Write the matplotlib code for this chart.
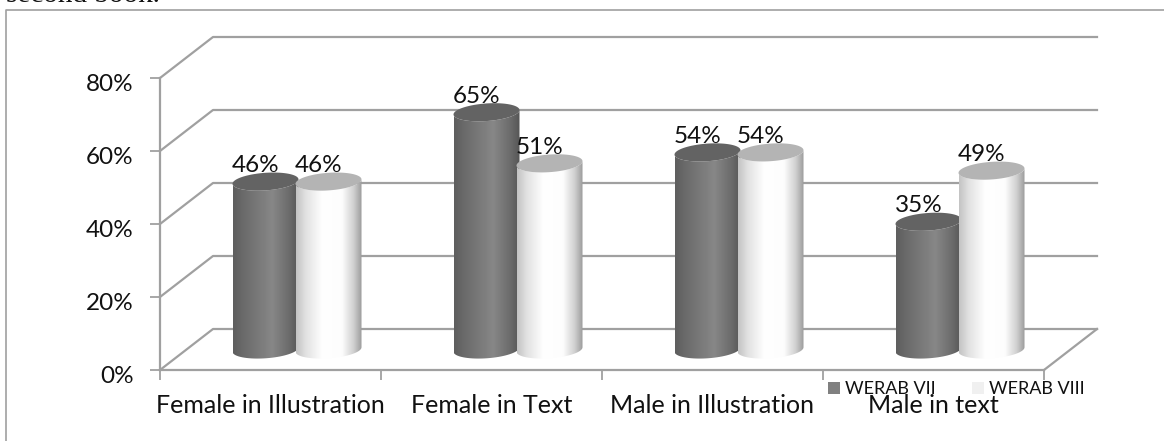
import numpy as np
import matplotlib
matplotlib.use('Agg')
import matplotlib.pyplot as plt
from matplotlib.lines import Line2D
from matplotlib.patches import PathPatch, Patch
from matplotlib.path import Path
from matplotlib.colors import LinearSegmentedColormap
from matplotlib.transforms import ScaledTranslation

### data
categories = ['Female in Illustration', 'Female in Text', 'Male in Illustration', 'Male in text']
werab_vii = [46, 65, 54, 35]
werab_viii = [46, 51, 54, 49]
y_ticks = [0, 20, 40, 60, 80]
y_tick_labels = ['0%', '20%', '40%', '60%', '80%']
series_names = ['WERAB VII', 'WERAB VIII']

W, H = 1164, 441
GRID = '#a0a0a0'
DEPTH_X = 53 / 221.  # depth of the fake 3d box, in axis units
DEPTH_Y = 41 / 3.65
BAR_W = 66 / 221.
BAR_STEP = 63 / 221.
ELL_H = 8.8 / 3.65  # half height of the ellipses
TILT = 2.2 / 3.65  # the ellipses lean up to the right

plt.rcParams['font.family'] = ['Lato', 'DejaVu Sans']

fig = plt.figure(figsize=(W / 100., H / 100.), dpi=100)
ax = fig.add_axes([160. / W, (H - 370.) / H, 884. / W, 292. / H])
ax.patch.set_alpha(0)

dark_cmap = LinearSegmentedColormap.from_list('dark', [(0, '#5e5e5e'), (0.15, '#6a6a6a'), (0.6, '#878787'), (0.85, '#6c6c6c'), (1, '#565656')])
light_cmap = LinearSegmentedColormap.from_list('light', [(0, '#c4c4c4'), (0.15, '#e2e2e2'), (0.4, '#ffffff'), (0.7, '#fdfdfd'), (0.88, '#cfcfcf'), (1, '#9c9c9c')])


def ellipse(cx, cy, t):
    return cx + BAR_W / 2. * np.cos(t), cy + ELL_H * np.sin(t) + TILT * np.cos(t)


def draw_cylinder(cx, value, cmap, cap_color, z):
    base = DEPTH_Y / 2.
    top = base + value
    # body outline: down the left side, round the front of the base, back up
    t = np.linspace(np.pi, 2 * np.pi, 40)
    bx, by = ellipse(cx, base, t)
    tx, ty = ellipse(cx, top, t[::-1])
    verts = np.column_stack([np.r_[bx, tx], np.r_[by, ty]])
    body = PathPatch(Path(np.vstack([verts, verts[0]]), closed=True), transform=ax.transData, fc='none', ec='none')
    ax.add_patch(body)
    grad = np.linspace(0, 1, 128).reshape(1, -1)
    im = ax.imshow(grad, cmap=cmap, aspect='auto', zorder=z, vmin=0, vmax=1,
                   extent=[cx - BAR_W / 2., cx + BAR_W / 2., base - ELL_H - 2, top + ELL_H + 2])
    im.set_clip_path(body)
    t = np.linspace(0, 2 * np.pi, 80)
    cx_e, cy_e = ellipse(cx, top, t)
    ax.fill(cx_e, cy_e, color=cap_color, zorder=z + 0.1, lw=0)


### box, grid and floor
for v in y_ticks:
    ax.plot([0, DEPTH_X, 4 + DEPTH_X], [v, v + DEPTH_Y, v + DEPTH_Y], color=GRID, lw=1.6, clip_on=False, zorder=1)
ax.plot([4, 4 + DEPTH_X], [0, DEPTH_Y], color=GRID, lw=1.6, clip_on=False, zorder=1)

for i in range(len(categories)):
    mid = i + 0.5 + DEPTH_X / 2.
    x1, x2 = mid - BAR_STEP / 2., mid + BAR_STEP / 2.
    draw_cylinder(x1, werab_vii[i], dark_cmap, '#636363', 3)
    draw_cylinder(x2, werab_viii[i], light_cmap, '#b4b4b4', 4)
    for x, v in ((x1, werab_vii[i]), (x2, werab_viii[i])):
        ax.annotate('%d%%' % v, (x, DEPTH_Y / 2. + v), xytext=(-7, 7), textcoords='offset points',
                    ha='center', va='baseline', fontsize=17.5, color='#111111', zorder=6, annotation_clip=False)

ax.set_xlim(0, 4)
ax.set_ylim(0, 80)
ax.set_xticks(range(5))
ax.set_xticklabels([])
# names go in the middle of each slot, on minor ticks with no mark
ax.set_xticks(np.arange(len(categories)) + 0.5, labels=categories, minor=True, fontsize=18, color='#111111')
ax.set_yticks(y_ticks)
ax.set_yticklabels(y_tick_labels, fontsize=17.5, color='#111111')
ax.tick_params(axis='both', color=GRID, width=1.3, length=7)
ax.tick_params(axis='x', which='minor', length=0, pad=17)
ax.tick_params(axis='y', pad=12)
for tick in ax.yaxis.get_ticklabels():  # labels sit a bit under their ticks
    tick.set_transform(tick.get_transform() + ScaledTranslation(0, -3 / 72., fig.dpi_scale_trans))
for s in ('top', 'right'):
    ax.spines[s].set_visible(False)
for s in ('left', 'bottom'):
    ax.spines[s].set_color(GRID)
    ax.spines[s].set_linewidth(1.6)

handles = [Patch(fc='#808080', ec='none'), Patch(fc='#f0f0f0', ec='none')]
ax.legend(handles, series_names, ncol=2, frameon=False, fontsize=13, loc='center left',
          bbox_to_anchor=((828. - 160.) / 884., -0.065), handlelength=0.66, handleheight=0.66,
          handletextpad=0.28, columnspacing=2.0, labelcolor='#111111', borderpad=0, borderaxespad=0)

### outer frame of the pasted chart, and the line of page text cut off above it
fig.add_artist(Line2D([6. / W, 6. / W, 1], [0, 1 - 10. / H, 1 - 10. / H], color='#a0a0a0', lw=1.2))
fig.text(6. / W, 1 - 2. / H, 'second book.', family='Liberation Serif', fontsize=21, color='#111111', va='baseline')

fig.savefig('out.png', dpi=100)
